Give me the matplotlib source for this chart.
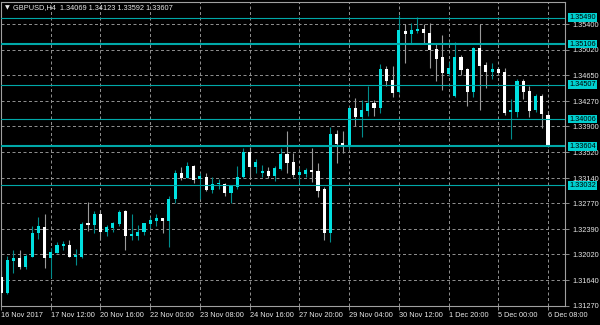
import matplotlib
matplotlib.use("Agg")
import matplotlib.pyplot as plt
import numpy as np

# GBPUSD H4 candles (oldest first)
opens = [1.31688, 1.31449, 1.31927, 1.31962, 1.31839, 1.31986, 1.32329, 1.32426, 1.31962, 1.32045,
         1.32147, 1.32158, 1.31986, 1.31986, 1.32476, 1.32451, 1.32617, 1.32353, 1.32403, 1.32461,
         1.32656, 1.32290, 1.32290, 1.32344, 1.32466, 1.32514, 1.32549, 1.32514, 1.32828, 1.33218,
         1.33145, 1.33317, 1.33122, 1.33160, 1.32965, 1.33048, 1.33048, 1.32925, 1.33013, 1.33151,
         1.33518, 1.33298, 1.33218, 1.33248, 1.33170, 1.33268, 1.33488, 1.33380, 1.33185, 1.33199,
         1.33258, 1.33248, 1.32975, 1.32329, 1.33782, 1.33658, 1.33600, 1.34163, 1.34031, 1.34128,
         1.34245, 1.34172, 1.34735, 1.34578, 1.34398, 1.35302, 1.35249, 1.35297, 1.35327, 1.35272,
         1.35033, 1.34911, 1.34666, 1.34344, 1.34911, 1.34735, 1.34398, 1.35043, 1.34798, 1.34691,
         1.34735, 1.34691, 1.34104, 1.34113, 1.34564, 1.34417, 1.34138, 1.34348, 1.34069]
highs = [1.31791, 1.31996, 1.32084, 1.32084, 1.32026, 1.32436, 1.32573, 1.32608, 1.32109, 1.32206,
         1.32216, 1.32231, 1.32099, 1.32495, 1.32793, 1.32656, 1.32671, 1.32451, 1.32499, 1.32671,
         1.32671, 1.32612, 1.32451, 1.32485, 1.32564, 1.32612, 1.32561, 1.32877, 1.33258, 1.33298,
         1.33380, 1.33331, 1.33210, 1.33210, 1.33151, 1.33130, 1.33072, 1.33038, 1.33317, 1.33576,
         1.33591, 1.33415, 1.33331, 1.33298, 1.33317, 1.33576, 1.33835, 1.33503, 1.33283, 1.33292,
         1.33585, 1.33356, 1.33013, 1.33884, 1.33845, 1.33830, 1.34178, 1.34319, 1.34285, 1.34490,
         1.34285, 1.34809, 1.34791, 1.34784, 1.35532, 1.35400, 1.35410, 1.35498, 1.35400, 1.35419,
         1.35117, 1.35239, 1.34847, 1.35140, 1.34945, 1.34750, 1.35067, 1.35400, 1.34847, 1.34823,
         1.34773, 1.34759, 1.34295, 1.34589, 1.34589, 1.34490, 1.34369, 1.34369, 1.34123]
lows = [1.31351, 1.31439, 1.31747, 1.31801, 1.31810, 1.31977, 1.32241, 1.31816, 1.31678, 1.32036,
        1.32084, 1.31977, 1.31864, 1.31967, 1.32367, 1.32329, 1.32224, 1.32290, 1.32353, 1.32436,
        1.32084, 1.32231, 1.32231, 1.32304, 1.32403, 1.32436, 1.32329, 1.32133, 1.32778, 1.33111,
        1.33136, 1.33072, 1.32828, 1.32954, 1.32925, 1.32984, 1.32877, 1.32769, 1.32979, 1.33141,
        1.33122, 1.33218, 1.33160, 1.33136, 1.33101, 1.33258, 1.33218, 1.33151, 1.33063, 1.33151,
        1.33086, 1.32866, 1.32231, 1.32206, 1.33356, 1.33512, 1.33562, 1.33904, 1.33747, 1.34050,
        1.34050, 1.34090, 1.34486, 1.34325, 1.34383, 1.34832, 1.35107, 1.35263, 1.35117, 1.34750,
        1.34568, 1.34432, 1.34637, 1.34333, 1.34652, 1.34197, 1.34333, 1.34138, 1.34457, 1.34589,
        1.34681, 1.34065, 1.33708, 1.34040, 1.34295, 1.34040, 1.34113, 1.33870, 1.33592]
closes = [1.31453, 1.31938, 1.31962, 1.31839, 1.31996, 1.32338, 1.32436, 1.31971, 1.32059, 1.32158,
          1.32172, 1.31986, 1.32007, 1.32466, 1.32455, 1.32612, 1.32353, 1.32426, 1.32485, 1.32646,
          1.32290, 1.32315, 1.32353, 1.32476, 1.32524, 1.32549, 1.32510, 1.32828, 1.33218, 1.33145,
          1.33317, 1.33111, 1.33170, 1.32965, 1.33048, 1.33063, 1.32925, 1.33023, 1.33151, 1.33518,
          1.33306, 1.33380, 1.33243, 1.33170, 1.33283, 1.33488, 1.33365, 1.33185, 1.33224, 1.33258,
          1.33224, 1.32954, 1.32329, 1.33782, 1.33639, 1.33610, 1.34163, 1.34031, 1.34138, 1.34245,
          1.34172, 1.34735, 1.34568, 1.34392, 1.35312, 1.35249, 1.35312, 1.35327, 1.35263, 1.35018,
          1.34886, 1.34677, 1.34759, 1.34911, 1.34725, 1.34398, 1.35043, 1.34784, 1.34700, 1.34735,
          1.34685, 1.34090, 1.34138, 1.34564, 1.34407, 1.34128, 1.34348, 1.34080, 1.33607]

time_labels = ["16 Nov 2017", "17 Nov 12:00", "20 Nov 16:00", "22 Nov 00:00", "23 Nov 08:00",
               "24 Nov 16:00", "27 Nov 20:00", "29 Nov 04:00", "30 Nov 12:00", "1 Dec 20:00",
               "5 Dec 00:00", "6 Dec 08:00"]
label_step = 8  # bars between time labels

price_ticks = [1.31270, 1.31640, 1.32020, 1.32390, 1.32770, 1.33140, 1.33520,
               1.33900, 1.34270, 1.34650, 1.35020, 1.35400]
levels = [1.35490, 1.35106, 1.34507, 1.34006, 1.33604, 1.33032]
thick_levels = [1.35106, 1.33604]

symbol = "GBPUSD,H4"

o = np.array(opens)
h = np.array(highs)
l = np.array(lows)
c = np.array(closes)
idx = np.arange(len(o))
up = c >= o

plt.rcParams['font.family'] = ['Liberation Sans', 'DejaVu Sans']
fs = 5.3
txt = '#e8e8e8'
gridc = '#8c8c8c'
cyan = '#00e0e0'
linec = '#00a8a8'

fig = plt.figure(figsize=(6, 3.25), dpi=100, facecolor='black')
ax = fig.add_axes([1 / 600, 19.5 / 325, 564 / 600, 303.5 / 325])
ax.set_facecolor('black')

ax.set_xlim(0, 90.73)
ax.set_ylim(1.31270, 1.35723)

# grid
for p in price_ticks[1:]:
    ax.axhline(p, color=gridc, lw=0.72, ls=(0, (3, 2.5)), zorder=1)
for k in range(len(time_labels)):
    ax.axvline(k * label_step, color=gridc, lw=0.72, ls=(0, (3, 2.5)), zorder=1)

# candles
ax.vlines(idx[up], l[up], h[up], color='#008c8c', lw=0.8, zorder=2)
ax.vlines(idx[~up], l[~up], h[~up], color='#9a9a9a', lw=0.8, zorder=2)
body_lo = np.minimum(o, c)
body_h = np.maximum(np.abs(c - o), 0.00012)
ax.bar(idx[up], body_h[up], bottom=body_lo[up], width=0.5, color=cyan, lw=0, zorder=3)
ax.bar(idx[~up], body_h[~up], bottom=body_lo[~up], width=0.5, color='white', lw=0, zorder=3)

# horizontal levels with price boxes
for v in levels:
    lw = 1.5 if v in thick_levels else 0.8
    ax.axhline(v, color=linec, lw=lw, zorder=4)
    ax.annotate(f"{v:.5f}", xy=(1, v), xycoords=('axes fraction', 'data'),
                xytext=(4, 0), textcoords='offset pixels', ha='left', va='center',
                fontsize=fs, color='black', annotation_clip=False, zorder=6,
                bbox=dict(boxstyle='square,pad=0.12', fc='#00d0d0', ec='none'))

for s in ax.spines.values():
    s.set_color('#a0a0a0')
    s.set_linewidth(0.8)

ax.yaxis.tick_right()
ax.set_yticks(price_ticks)
ax.set_yticklabels([f"{p:.5f}" for p in price_ticks])
ax.tick_params(axis='y', colors=txt, labelsize=fs, length=3, width=0.6, pad=2)
ax.tick_params(axis='y', color='#a0a0a0')

ax.set_xticks([k * label_step for k in range(len(time_labels))])
ax.set_xticklabels(time_labels, ha='left')
ax.tick_params(axis='x', colors=txt, labelsize=fs, length=3, width=0.6, pad=2)
ax.tick_params(axis='x', color='#a0a0a0')

last = len(o) - 1
fig.text(5 / 600, 1 - 7.5 / 325, "\u25bc", family='DejaVu Sans', fontsize=4.5,
         color=txt, va='center', ha='left')
fig.text(13 / 600, 1 - 7.5 / 325,
         f"{symbol}  {o[last]:.5f} {h[last]:.5f} {l[last]:.5f} {c[last]:.5f}",
         fontsize=fs, color=txt, va='center', ha='left')

fig.savefig("out.png", dpi=100, facecolor='black')
